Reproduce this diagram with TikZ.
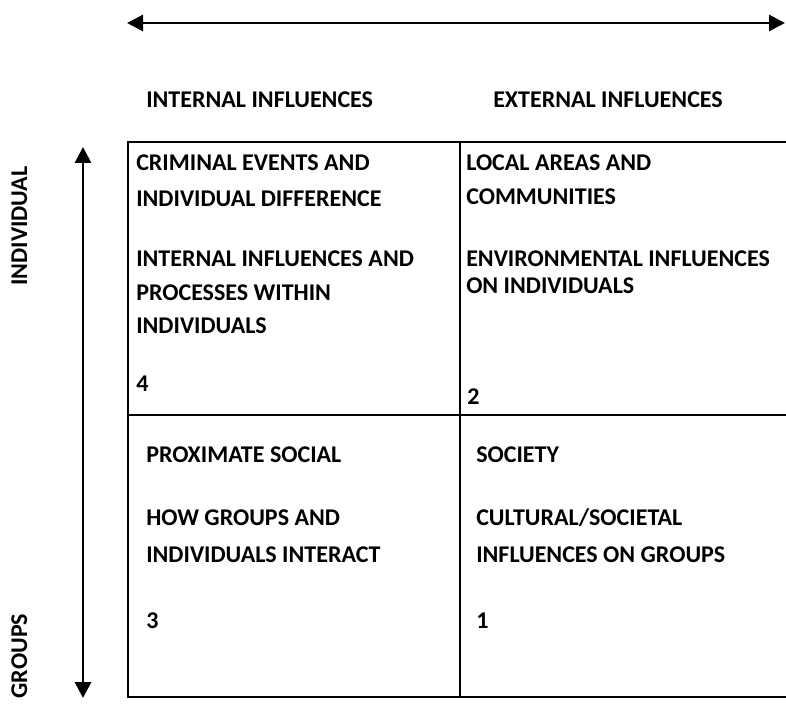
\documentclass[tikz,border=0pt]{standalone}
\usepackage{fontspec}
\setmainfont{Carlito}
\usetikzlibrary{arrows.meta}

\begin{document}
\begin{tikzpicture}[x=0.75pt,y=-0.75pt]
    \tikzstyle{every node}+=[inner sep=0pt]
    \tikzset{
      celltext/.style={anchor=base west, font=\bfseries\fontsize{18}{22}\selectfont},
      sidetext/.style={anchor=base, rotate=90, font=\bfseries\fontsize{18}{22}\selectfont},
      gridline/.style={black, line width=1.5pt},
      axisarrow/.style={black, line width=2.2pt,
        {Triangle[length=12pt,width=12pt]}-{Triangle[length=12pt,width=12pt]}}
    }
    \useasboundingbox (0,0) rectangle (786,709);
    \coordinate (inner) at (127,23);
    \coordinate (outer) at (785,23);
    \coordinate (indiv) at (83,147);
    \coordinate (group) at (83,698);
    \draw [axisarrow] (inner) -- (outer);
    \draw [axisarrow] (indiv) -- (group);
    \node [celltext] (inhead) at (146,108) {INTERNAL INFLUENCES};
    \node [celltext] (exhead) at (493,108) {EXTERNAL INFLUENCES};
    \node [sidetext] (indivlab) at (27,226) {INDIVIDUAL};
    \node [sidetext] (grouplab) at (27,656) {GROUPS};
    \coordinate (tl) at (128,142);
    \coordinate (tm) at (460,142);
    \coordinate (tr) at (787,142);
    \coordinate (ml) at (128,415);
    \coordinate (mr) at (787,415);
    \coordinate (bl) at (128,697);
    \coordinate (bm) at (460,697);
    \coordinate (br) at (787,697);
    \draw [gridline] (tr) -- (tl) -- (bl) -- (br);
    \draw [gridline] (tm) -- (bm);
    \draw [gridline] (ml) -- (mr);
    \node [celltext] (q4a) at (136,171) {CRIMINAL EVENTS AND};
    \node [celltext] (q4b) at (136,207) {INDIVIDUAL DIFFERENCE};
    \node [celltext] (q4c) at (136,267) {INTERNAL INFLUENCES AND};
    \node [celltext] (q4d) at (136,301) {PROCESSES WITHIN};
    \node [celltext] (q4e) at (136,334) {INDIVIDUALS};
    \node [celltext] (q4n) at (136,392) {4};
    \node [celltext] (q2a) at (466,171) {LOCAL AREAS AND};
    \node [celltext] (q2b) at (466,205) {COMMUNITIES};
    \node [celltext] (q2c) at (466,267) {ENVIRONMENTAL INFLUENCES};
    \node [celltext] (q2d) at (466,294) {ON INDIVIDUALS};
    \node [celltext] (q2n) at (467,405) {2};
    \node [celltext] (q3a) at (146,463) {PROXIMATE SOCIAL};
    \node [celltext] (q3b) at (146,525) {HOW GROUPS AND};
    \node [celltext] (q3c) at (146,562) {INDIVIDUALS INTERACT};
    \node [celltext] (q3n) at (146,628) {3};
    \node [celltext] (q1a) at (476,462) {SOCIETY};
    \node [celltext] (q1b) at (476,525) {CULTURAL/SOCIETAL};
    \node [celltext] (q1c) at (476,562) {INFLUENCES ON GROUPS};
    \node [celltext] (q1n) at (476,628) {1};
\end{tikzpicture}
\end{document}
